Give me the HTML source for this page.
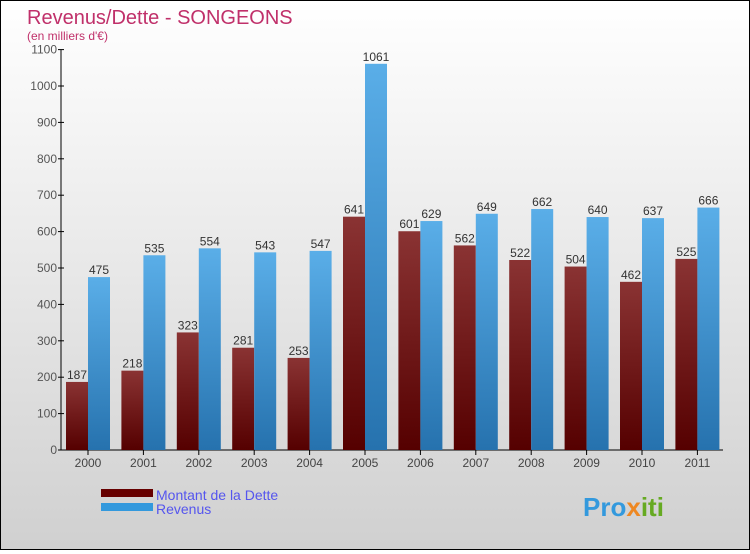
<!DOCTYPE html>
<html><head><meta charset="utf-8"><style>
body{margin:0}
#c{width:748px;height:548px;border:1px solid #000;background:linear-gradient(#fff,#d0d0d0);position:relative;font-family:"Liberation Sans",sans-serif}
</style></head><body>
<div id="c">
<svg id="s" width="748" height="548">
<defs>
<linearGradient id="gd" x1="0" y1="0" x2="0" y2="1"><stop offset="0" stop-color="#8a3333"/><stop offset="1" stop-color="#550000"/></linearGradient>
<linearGradient id="gr" x1="0" y1="0" x2="0" y2="1"><stop offset="0" stop-color="#5aaee8"/><stop offset="1" stop-color="#2672ae"/></linearGradient>
</defs>
<text x="26" y="23" font-size="20" fill="#c0306a">Revenus/Dette - SONGEONS</text>
<text x="26" y="39" font-size="12" fill="#c0306a">(en milliers d'€)</text>
<g id="g"></g>
<rect x="100" y="488" width="52" height="8" fill="#660000"/>
<rect x="100" y="502" width="52" height="8" fill="#3399dd"/>
<text x="155" y="499" font-size="14" fill="#5555ee">Montant de la Dette</text>
<text x="155" y="513" font-size="14" fill="#5555ee">Revenus</text>
<text x="582" y="515" font-size="26" font-weight="bold" fill="#3399dd">Pro<tspan fill="#ee8822">x</tspan><tspan fill="#66aa22">iti</tspan></text>
</svg></div>
<script>
const categories=["2000","2001","2002","2003","2004","2005","2006","2007","2008","2009","2010","2011"];
const dette=[187,218,323,281,253,641,601,562,522,504,462,525];
const revenus=[475,535,554,543,547,1061,629,649,662,640,637,666];
const ticks=[0,100,200,300,400,500,600,700,800,900,1000,1100];
const NS="http://www.w3.org/2000/svg";
const g=document.getElementById("g");
const y=v=>449-v*0.364;
const x=i=>87+i*55.4;
function mk(t,a,txt){const e=document.createElementNS(NS,t);for(const k in a)e.setAttribute(k,a[k]);if(txt!=null)e.textContent=txt;g.appendChild(e);return e;}
let ax=mk("line",{x1:60,y1:y(1100),x2:60,y2:449,stroke:"#000"});


let bx=mk("line",{x1:60,y1:449,x2:722,y2:449,stroke:"#000"});


ticks.forEach(t=>{
 let l=mk("line",{x1:57,x2:63,y1:y(t),y2:y(t),stroke:"#000"});
 
 
 let tx=mk("text",{x:56,y:y(t)+4,"font-size":12,fill:"#555","text-anchor":"end"},t);
 
 
});
categories.forEach((c,i)=>{
 const cx=x(i);
 let a=mk("rect",{x:cx-22,y:y(dette[i]),width:22,height:449-y(dette[i]),fill:"url(#gd)"});
 
 
 let b=mk("rect",{x:cx,y:y(revenus[i]),width:22,height:449-y(revenus[i]),fill:"url(#gr)"});
 
 
 let la=mk("text",{x:cx-11,y:y(dette[i])-3,"font-size":12,fill:"#333","text-anchor":"middle"},dette[i]);
 
 
 let lb=mk("text",{x:cx+11,y:y(revenus[i])-3,"font-size":12,fill:"#333","text-anchor":"middle"},revenus[i]);
 
 
 let tk=mk("line",{x1:cx,x2:cx,y1:449,y2:454,stroke:"#000"});
 
 
 let xl=mk("text",{x:cx,y:466,"font-size":12,fill:"#444","text-anchor":"middle"},c);
 
 
});
</script>
</body></html>
